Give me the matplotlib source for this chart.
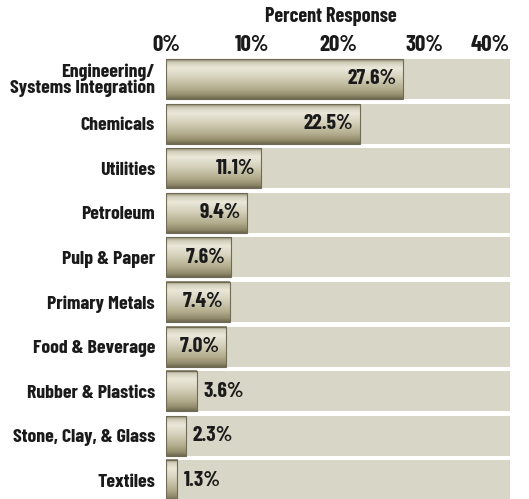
import numpy as np
import matplotlib.pyplot as plt
from matplotlib.colors import LinearSegmentedColormap

plt.rcParams['font.family'] = ['Barlow Condensed', 'Fira Sans Extra Condensed', 'DejaVu Sans']
plt.rcParams['font.weight'] = 'bold'

categories = ["Engineering/\nSystems Integration", "Chemicals", "Utilities", "Petroleum",
              "Pulp & Paper", "Primary Metals", "Food & Beverage", "Rubber & Plastics",
              "Stone, Clay, & Glass", "Textiles"]
values = [27.6, 22.5, 11.1, 9.4, 7.6, 7.4, 7.0, 3.6, 2.3, 1.3]
ticks = [0, 10, 20, 30, 40]
tick_labels = ["0%", "10%", "20%", "30%", "40%"]

W, H = 529, 499
fig = plt.figure(figsize=(W / 100, H / 100), dpi=100)
fig.patch.set_facecolor("white")

# axes spans the bar area: x 166..510 px, rows of 44.6 px starting at 56.7 px
top_px, row_px = 56.7, 44.6
ax = fig.add_axes([166 / W, 1 - (top_px + 10 * row_px) / H, (510 - 166) / W, 10 * row_px / H])
ax.set_facecolor("white")
for s in ax.spines.values():
    s.set_visible(False)

bar_h = 40 / row_px
y = np.arange(len(values))

# background tracks
ax.barh(y, 40, height=bar_h, color="#d8d6c6", edgecolor="none", zorder=1)

# metallic vertical gradient
grad_cmap = LinearSegmentedColormap.from_list("metal", [
    (0.0, "#8c866a"), (0.08, "#d2cebb"), (0.22, "#ebe8da"), (0.45, "#d6d2bd"),
    (0.75, "#b3ad8d"), (0.92, "#8f896a"), (1.0, "#6e6850")])
grad = np.linspace(0, 1, 100).reshape(-1, 1)
for yi, v in zip(y, values):
    ax.imshow(grad, cmap=grad_cmap, aspect="auto", interpolation="bicubic",
              extent=(0, v, yi + bar_h / 2, yi - bar_h / 2), zorder=2)
ax.barh(y, values, height=bar_h, color="none", edgecolor="#6f6a55", linewidth=0.8, zorder=3)
ax.set_ylim(9.5, -0.5)
ax.set_xlim(0, 40)

for yi, v in zip(y, values):
    if v >= 5:
        ax.annotate(f"{v:.1f}%", (v, yi), xytext=(-4.5, 0), textcoords="offset points",
                    ha="right", va="center", fontsize=15.5, fontweight="bold",
                    color="#1a1a1a", zorder=4)
    else:
        ax.annotate(f"{v:.1f}%", (v, yi), xytext=(4.5, 0), textcoords="offset points",
                    ha="left", va="center", fontsize=15.5, fontweight="bold",
                    color="#1a1a1a", zorder=4)

ax.xaxis.tick_top()
ax.set_xticks(ticks)
ax.set_xticklabels(tick_labels, fontsize=16.5, fontweight="bold", color="#1a1a1a")
ax.get_xticklabels()[-1].set_horizontalalignment("right")
ax.tick_params(axis="x", length=0, pad=1)
ax.set_yticks(y)
ax.set_yticklabels(categories, fontsize=14.3, fontweight="bold", color="#1a1a1a",
                   linespacing=0.9)
ax.tick_params(axis="y", length=0, pad=8)

fig.text(331 / W, 1 - 17 / H, "Percent Response", ha="center", va="center",
         fontsize=14.5, fontweight="bold", color="#1a1a1a")

fig.savefig("out.png", dpi=100)
